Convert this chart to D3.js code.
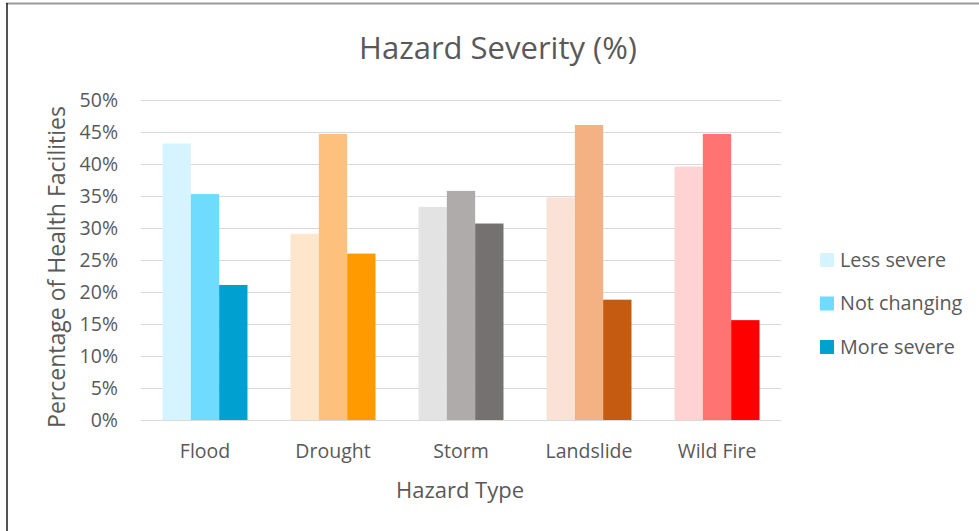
<!DOCTYPE html>
<html><head><meta charset="utf-8">
<script src="https://cdn.jsdelivr.net/npm/d3@7"></script>
<style>body{margin:0;background:#fff;}svg{display:block;}</style>
</head><body>
<svg id="chart" width="979" height="531"></svg>
<script>
const categories = ["Flood","Drought","Storm","Landslide","Wild Fire"];
const seriesNames = ["Less severe","Not changing","More severe"];
const lessSevere = [43.2, 29.1, 33.3, 34.8, 39.6];
const notChanging = [35.3, 44.7, 35.8, 46.1, 44.7];
const moreSevere = [21.1, 26.0, 30.7, 18.8, 15.6];
const yTicks = [0,5,10,15,20,25,30,35,40,45,50];
const colors = [
  ["#D5F4FF","#6FDCFF","#00A0D0"],
  ["#FDE6CC","#FDC17D","#FF9A00"],
  ["#E3E3E3","#AFABAB","#767171"],
  ["#FAE3D6","#F4B183","#C55A11"],
  ["#FFD3D3","#FF7373","#FF0000"]
];
const series = [lessSevere, notChanging, moreSevere];

const svg = d3.select("#chart");
const font = "'Open Sans', sans-serif";
const txt = "#595959";

// frame edges (top grey, left dark)
svg.append("line").attr("x1",6).attr("x2",979).attr("y1",3.5).attr("y2",3.5)
  .attr("stroke","#9a9a9a").attr("stroke-width",2);
svg.append("line").attr("x1",7).attr("x2",7).attr("y1",3).attr("y2",531)
  .attr("stroke","#1a1a1a").attr("stroke-width",1.5);

const pLeft = 141, pRight = 781, pTop = 100, pBottom = 420;
const x0 = d3.scaleBand().domain(categories).range([pLeft,pRight]).paddingInner(0.336).paddingOuter(0.168);
const x1 = d3.scaleBand().domain(d3.range(3)).range([0,x0.bandwidth()]);
const y = d3.scaleLinear().domain([0,50]).range([pBottom,pTop]);

// gridlines
svg.append("g").selectAll("line").data(yTicks).join("line")
  .attr("x1",pLeft).attr("x2",pRight)
  .attr("y1",d=>y(d)+0.5).attr("y2",d=>y(d)+0.5)
  .attr("stroke","#d9d9d9").attr("stroke-width",1);

// y axis labels
const yAxis = d3.axisLeft(y).tickValues(yTicks).tickFormat(d=>d+"%").tickSize(0).tickPadding(0);
const ya = svg.append("g").attr("transform",`translate(${pLeft-23},0)`).call(yAxis);
ya.select(".domain").remove();
ya.selectAll("text").attr("font-family",font).attr("font-size",19.5).attr("fill",txt).attr("dy","0.35em");

// bars
const groups = svg.append("g").selectAll("g").data(categories).join("g")
  .attr("transform",d=>`translate(${x0(d)},0)`);
groups.selectAll("rect").data((c,ci)=>series.map((s,si)=>({v:s[ci],ci,si}))).join("rect")
  .attr("x",d=>x1(d.si)).attr("width",x1.bandwidth())
  .attr("y",d=>y(d.v)).attr("height",d=>y(0)-y(d.v))
  .attr("fill",d=>colors[d.ci][d.si]);

// baseline
svg.append("line").attr("x1",pLeft).attr("x2",pRight).attr("y1",pBottom+0.5).attr("y2",pBottom+0.5)
  .attr("stroke","#d9d9d9").attr("stroke-width",1);

// x axis labels
const xAxis = d3.axisBottom(x0).tickSize(0).tickPadding(0);
const xa = svg.append("g").attr("transform",`translate(0,${pBottom+31})`).call(xAxis);
xa.select(".domain").remove();
xa.selectAll("text").attr("font-family",font).attr("font-size",19.5).attr("fill",txt).attr("dy","0.35em");

// title
svg.append("text").attr("x",498).attr("y",48).attr("text-anchor","middle").attr("dy","0.35em")
  .attr("font-family",font).attr("font-size",31).attr("fill",txt).text("Hazard Severity (%)");

// axis titles
svg.append("text").attr("x",460).attr("y",490).attr("text-anchor","middle").attr("dy","0.35em")
  .attr("font-family",font).attr("font-size",22).attr("fill",txt).text("Hazard Type");
svg.append("text").attr("transform","translate(57,267) rotate(-90)").attr("text-anchor","middle").attr("dy","0.35em")
  .attr("font-family",font).attr("font-size",23).attr("fill",txt).text("Percentage of Health Facilities");

// legend
const lg = svg.append("g").selectAll("g").data(seriesNames).join("g")
  .attr("transform",(d,i)=>`translate(820,${260+i*43.5})`);
lg.append("rect").attr("x",0).attr("y",-7).attr("width",14).attr("height",14).attr("fill",(d,i)=>colors[0][i]);
lg.append("text").attr("x",20).attr("y",0).attr("dy","0.35em").attr("font-family",font).attr("font-size",19.8)
  .attr("fill",txt).text(d=>d);
</script>
</body></html>
